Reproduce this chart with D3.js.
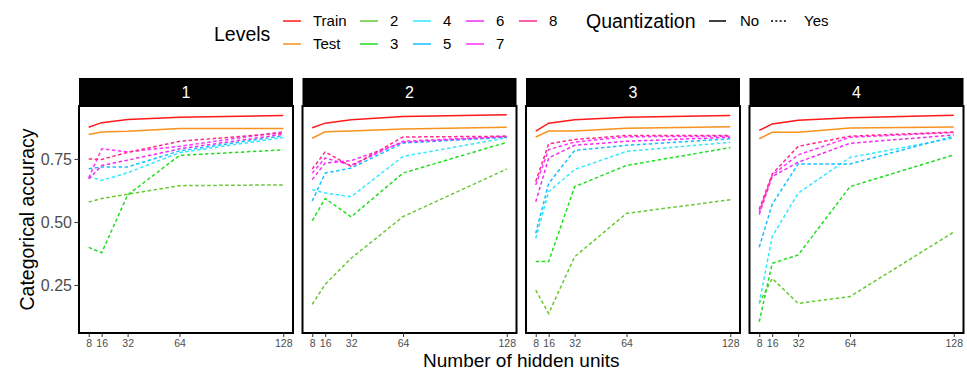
<!DOCTYPE html>
<html>
<head>
<meta charset="utf-8">
<script src="https://cdn.jsdelivr.net/npm/d3@7"></script>
<style>
  html, body { margin: 0; padding: 0; background: #fff; }
  svg { display: block; font-family: "Liberation Sans", Arial, Helvetica, sans-serif; }
</style>
</head>
<body>
<svg id="chart" width="967" height="370"></svg>
<script>
// ---------------- data ----------------
const units = [8, 16, 32, 64, 128];
const panels = ["1", "2", "3", "4"];
const levels = ["Train", "Test", "2", "3", "4", "5", "6", "7", "8"];
const quantization = ["No", "No", "Yes", "Yes", "Yes", "Yes", "Yes", "Yes", "Yes"];
const levelColors = ["#FF1A1A", "#F7931E", "#66C832", "#22DD22", "#33E8FF", "#18C0FF", "#F02CF0", "#FF33FF", "#FF2A8C"];
const yTicks = [0.25, 0.50, 0.75];

// accuracy per panel, one row per level (order of `levels`), one value per unit
const panel1 = [
  [0.876, 0.894, 0.906, 0.915, 0.922],
  [0.847, 0.857, 0.860, 0.871, 0.871],
  [0.579, 0.593, 0.610, 0.644, 0.647],
  [0.399, 0.378, 0.607, 0.764, 0.786],
  [0.680, 0.665, 0.695, 0.775, 0.835],
  [0.711, 0.718, 0.718, 0.782, 0.842],
  [0.670, 0.724, 0.745, 0.790, 0.848],
  [0.675, 0.790, 0.778, 0.800, 0.858],
  [0.750, 0.748, 0.776, 0.820, 0.853]
];
const panel2 = [
  [0.874, 0.892, 0.905, 0.918, 0.925],
  [0.832, 0.858, 0.861, 0.869, 0.876],
  [0.173, 0.253, 0.356, 0.521, 0.710],
  [0.505, 0.593, 0.520, 0.694, 0.816],
  [0.628, 0.615, 0.600, 0.760, 0.834],
  [0.583, 0.694, 0.714, 0.813, 0.836],
  [0.668, 0.734, 0.743, 0.816, 0.838],
  [0.694, 0.754, 0.725, 0.820, 0.840],
  [0.710, 0.778, 0.720, 0.837, 0.840]
];
const panel3 = [
  [0.860, 0.892, 0.905, 0.915, 0.922],
  [0.837, 0.861, 0.861, 0.872, 0.878],
  [0.230, 0.137, 0.362, 0.534, 0.588],
  [0.343, 0.343, 0.640, 0.724, 0.795],
  [0.435, 0.620, 0.708, 0.780, 0.816],
  [0.455, 0.653, 0.784, 0.804, 0.830],
  [0.580, 0.754, 0.804, 0.820, 0.836],
  [0.647, 0.787, 0.817, 0.838, 0.840],
  [0.660, 0.810, 0.827, 0.843, 0.843]
];
const panel4 = [
  [0.863, 0.889, 0.903, 0.913, 0.923],
  [0.830, 0.856, 0.856, 0.873, 0.877],
  [0.177, 0.276, 0.177, 0.204, 0.460],
  [0.104, 0.336, 0.369, 0.640, 0.766],
  [0.177, 0.442, 0.614, 0.756, 0.833],
  [0.400, 0.570, 0.730, 0.730, 0.840],
  [0.530, 0.680, 0.737, 0.812, 0.845],
  [0.540, 0.686, 0.766, 0.836, 0.855],
  [0.550, 0.690, 0.800, 0.840, 0.857]
];
const panelData = [panel1, panel2, panel3, panel4];

// ---------------- layout ----------------
const svg = d3.select("#chart");
const panelTop = 106, panelBottom = 333, stripTop = 78;

const fx = d3.scaleBand().domain(panels).range([79, 963.5]).paddingInner(0.0425).paddingOuter(0);
const pw = fx.bandwidth();
const x = d3.scaleLinear().domain([2, 134]).range([0, pw]);
const y = d3.scaleLinear().domain([0.0595, 0.960]).range([panelBottom, panelTop]);
const color = d3.scaleOrdinal().domain(levels).range(levelColors);
const dashOf = d3.scaleOrdinal().domain(["No", "Yes"]).range([null, "3.5,2.5"]);

const line = d3.line().x((d, i) => x(units[i])).y(d => y(d));

panels.forEach((p, pi) => {
  const g = svg.append("g").attr("transform", `translate(${fx(p)},0)`);

  // strip
  g.append("rect").attr("x", 0).attr("y", stripTop).attr("width", pw).attr("height", panelTop - stripTop - 1)
    .attr("fill", "#000");
  g.append("text").attr("x", pw / 2).attr("y", (stripTop + panelTop) / 2).attr("dy", "0.36em")
    .attr("text-anchor", "middle").attr("fill", "#fff").attr("font-size", 16).text(p);

  // panel background
  g.append("rect").attr("x", 0).attr("y", panelTop).attr("width", pw).attr("height", panelBottom - panelTop)
    .attr("fill", "#fff");

  // lines
  const clipId = "clip" + pi;
  g.append("clipPath").attr("id", clipId).append("rect")
    .attr("x", 0).attr("y", panelTop).attr("width", pw).attr("height", panelBottom - panelTop);
  const lg = g.append("g").attr("clip-path", `url(#${clipId})`);
  panelData[pi].forEach((vals, li) => {
    lg.append("path")
      .attr("d", line(vals))
      .attr("fill", "none")
      .attr("stroke", color(levels[li]))
      .attr("stroke-width", 1.5)
      .attr("stroke-dasharray", dashOf(quantization[li]));
  });

  // border
  g.append("rect").attr("x", 0).attr("y", panelTop).attr("width", pw).attr("height", panelBottom - panelTop)
    .attr("fill", "none").attr("stroke", "#000").attr("stroke-width", 2);

  // x axis
  const xa = g.append("g").attr("transform", `translate(0,${panelBottom})`)
    .call(d3.axisBottom(x).tickValues(units).tickSize(4).tickPadding(3).tickFormat(d3.format("d")));
  xa.select(".domain").remove();
  xa.selectAll("line").attr("stroke", "#333");
  xa.selectAll("text").attr("fill", "#4D4D4D").attr("font-size", 10.5).attr("font-family", null);

  if (pi === 0) {
    const ya = g.append("g")
      .call(d3.axisLeft(y).tickValues(yTicks).tickSize(4.5).tickPadding(2.5).tickFormat(d3.format(".2f")));
    ya.select(".domain").remove();
    ya.selectAll("line").attr("stroke", "#333");
    ya.selectAll("text").attr("fill", "#4D4D4D").attr("font-size", 16).attr("font-family", null);
  }
});

// axis titles
svg.append("text").attr("transform", `translate(27,${(panelTop + panelBottom) / 2}) rotate(-90)`)
  .attr("text-anchor", "middle").attr("dy", "0.36em").attr("font-size", 19.5).attr("fill", "#000")
  .text("Categorical accuracy");
svg.append("text").attr("x", (fx("1") + fx("4") + pw) / 2).attr("y", 367)
  .attr("text-anchor", "middle").attr("font-size", 19).attr("fill", "#000")
  .text("Number of hidden units");

// ---------------- legend ----------------
const leg = svg.append("g");
leg.append("text").attr("x", 214).attr("y", 34).attr("dy", "0.36em").attr("font-size", 19.5).text("Levels");
const colX = [283, 360, 413, 466, 519];
const rowY = [21, 44];
levels.forEach((lv, i) => {
  const c = Math.floor(i / 2), r = i % 2;
  const kx = colX[c], ky = rowY[r];
  leg.append("line").attr("x1", kx).attr("x2", kx + 18).attr("y1", ky).attr("y2", ky)
    .attr("stroke", color(lv)).attr("stroke-width", 1.5);
  leg.append("text").attr("x", kx + 30).attr("y", ky).attr("dy", "0.36em").attr("font-size", 15).text(lv);
});
leg.append("text").attr("x", 586).attr("y", 21).attr("dy", "0.36em").attr("font-size", 19.5).text("Quantization");
const qKeys = [["No", 709, 740, null], ["Yes", 771, 804, "2,2.3"]];
qKeys.forEach(([q, kx, tx, dash]) => {
  leg.append("line").attr("x1", kx).attr("x2", kx + 17).attr("y1", 21).attr("y2", 21)
    .attr("stroke", "#000").attr("stroke-width", 1.5).attr("stroke-dasharray", dash);
  leg.append("text").attr("x", tx).attr("y", 21).attr("dy", "0.36em").attr("font-size", 15).text(q);
});
</script>
</body>
</html>
